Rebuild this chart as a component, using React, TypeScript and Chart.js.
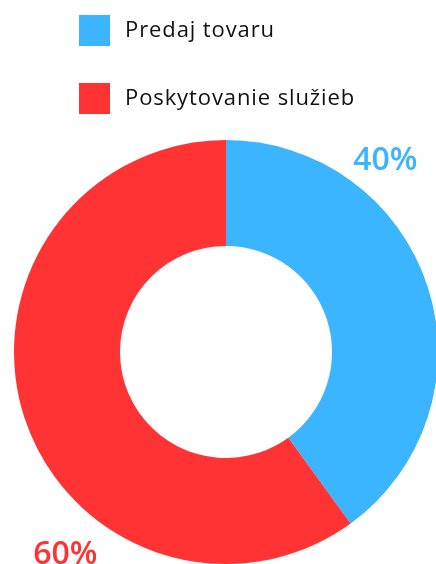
import React, { useEffect, useRef } from "react";
import { Chart, registerables } from "chart.js";

Chart.register(...registerables);

const categories = ["Predaj tovaru", "Poskytovanie služieb"];
const shares = [40, 60];
const colors = ["#3BB5FF", "#FF3333"];
const valueLabels = ["40%", "60%"];

const FONT = "'Open Sans', 'DejaVu Sans', sans-serif";

const legendPlugin = {
  id: "stackedLegend",
  afterDraw(chart: any, _args: any, opts: any) {
    const ctx = chart.ctx;
    const ds = chart.data.datasets[0];
    ctx.save();
    (chart.data.labels as string[]).forEach((label, i) => {
      const y = opts.top + i * opts.rowGap;
      ctx.fillStyle = ds.backgroundColor[i];
      ctx.fillRect(opts.left, y, opts.box, opts.box);
      ctx.fillStyle = "#111";
      ctx.font = `400 ${opts.fontSize}px ${FONT}`;
      (ctx as any).letterSpacing = `${opts.spacing}px`;
      ctx.textBaseline = "middle";
      ctx.textAlign = "left";
      ctx.fillText(label, opts.left + opts.box + opts.gap, y + opts.box / 2);
    });
    ctx.restore();
  },
};

const valueLabelPlugin = {
  id: "valueLabels",
  afterDraw(chart: any, _args: any, opts: any) {
    const ctx = chart.ctx;
    const meta = chart.getDatasetMeta(0);
    const ds = chart.data.datasets[0];
    ctx.save();
    ctx.font = `600 ${opts.fontSize}px ${FONT}`;
    (ctx as any).letterSpacing = "0px";
    ctx.textAlign = "center";
    ctx.textBaseline = "middle";
    meta.data.forEach((arc: any, i: number) => {
      const { x, y, outerRadius } = arc.getProps(["x", "y", "outerRadius"], true);
      const ang = (opts.angles[i] * Math.PI) / 180;
      const r = outerRadius * opts.radii[i];
      ctx.fillStyle = ds.backgroundColor[i];
      ctx.fillText(valueLabels[i], x + r * Math.sin(ang), y - r * Math.cos(ang) + 1);
    });
    ctx.restore();
  },
};

export default function App() {
  const ref = useRef<HTMLCanvasElement>(null);
  useEffect(() => {
    document.body.style.margin = "0";
    const chart = new Chart(ref.current!, {
      type: "doughnut",
      data: {
        labels: categories,
        datasets: [
          {
            data: shares,
            backgroundColor: colors,
            borderWidth: 0,
            clip: false as any,
          },
        ],
      },
      plugins: [legendPlugin, valueLabelPlugin],
      options: {
        animation: false,
        responsive: false,
        radius: 212,
        cutout: "50%",
        layout: { padding: { top: 140, bottom: 0, left: 16, right: 0 } },
        plugins: {
          legend: { display: false },
          tooltip: { enabled: false },
          stackedLegend: { left: 79, top: 15, rowGap: 68, box: 31, gap: 15, fontSize: 22, spacing: 0.9 },
          valueLabels: { fontSize: 32, angles: [39.7, 218.5], radii: [1.177, 1.217] },
        } as any,
      },
    });
    return () => chart.destroy();
  }, []);
  return (
    <div style={{ position: "absolute", left: 0, top: 0, width: 436, height: 564 }}>
      <canvas ref={ref} width={436} height={564} style={{ display: "block" }} />
    </div>
  );
}
